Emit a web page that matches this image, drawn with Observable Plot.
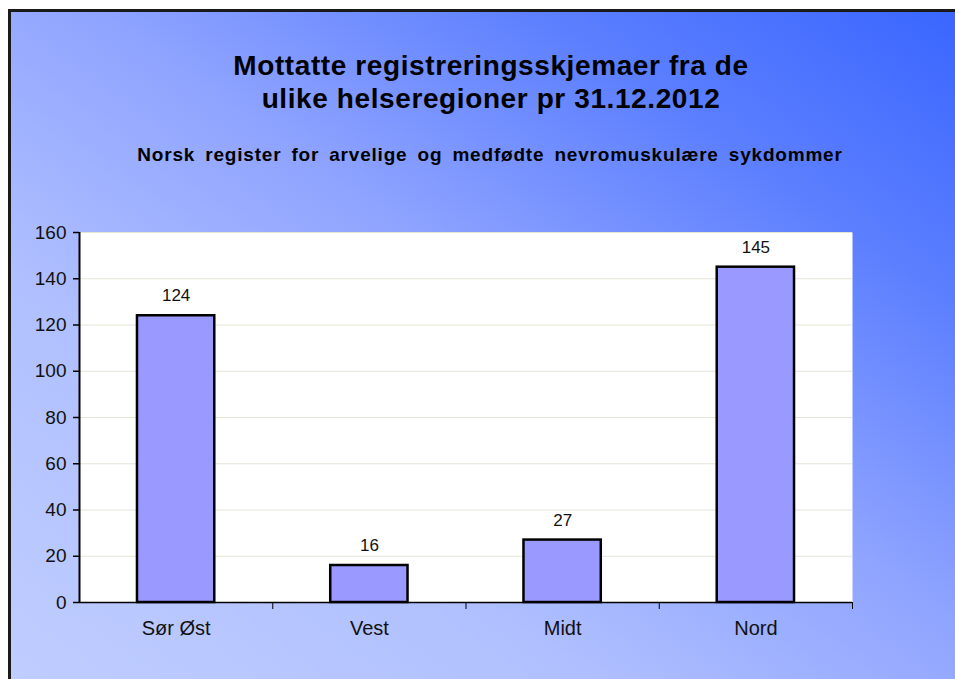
<!DOCTYPE html>
<html><head><meta charset="utf-8">
<script src="https://cdn.jsdelivr.net/npm/d3@7"></script>
<script src="https://cdn.jsdelivr.net/npm/@observablehq/plot@0.6"></script>
<style>
body{margin:0;background:#fff;width:955px;height:679px;overflow:hidden;position:relative;font-family:"Liberation Sans",Arial,sans-serif;}
#box{position:absolute;left:8px;top:9px;width:950px;height:672px;border-top:3px solid #1a1a1a;border-left:3px solid #1a1a1a;
 background:linear-gradient(to top right,#bfcdff 0%,#b0c0ff 30%,#8ea3ff 55%,#5c7fff 78%,#3a66ff 100%);}
#title{position:absolute;left:0;top:49px;width:982px;text-align:center;font-weight:bold;font-size:28px;letter-spacing:0.6px;line-height:33px;color:#000;}
#sub{position:absolute;left:0;top:144px;width:980px;text-align:center;font-weight:bold;font-size:19px;letter-spacing:0.8px;word-spacing:4px;color:#000;}
#chart{position:absolute;left:0;top:220px;}
</style></head>
<body>
<div id="box"></div>
<div id="title">Mottatte registreringsskjemaer fra de<br>ulike helseregioner pr 31.12.2012</div>
<div id="sub">Norsk register for arvelige og medfødte nevromuskulære sykdommer</div>
<div id="chart"></div>
<script>
const categories = ["Sør Øst", "Vest", "Midt", "Nord"];
const values = [124, 16, 27, 145];
const yTicks = [0, 20, 40, 60, 80, 100, 120, 140, 160];
const data = categories.map((c, i) => ({c, v: values[i], i}));
const boundaries = [1, 2, 3, 4];

const chart = Plot.plot({
  width: 955, height: 420,
  marginLeft: 79, marginRight: 103, marginTop: 12, marginBottom: 38,
  style: {background: "transparent", fontFamily: "'Liberation Sans', Arial, sans-serif", color: "#000"},
  x: {domain: [0, 4], axis: null},
  y: {domain: [0, 160], axis: null},
  marks: [
    Plot.frame({fill: "white", stroke: null}),
    Plot.gridY(yTicks, {stroke: "#e4e4d4", strokeOpacity: 1, strokeWidth: 1}),
    Plot.rectY(data, {x1: d => d.i + 0.3, x2: d => d.i + 0.7, y: "v", fill: "#9999ff", stroke: "#000", strokeWidth: 2.5}),
    Plot.text(data, {x: d => d.i + 0.5, y: "v", text: d => String(d.v), dy: -20, fontSize: 17, letterSpacing: "0.5px", fill: "#111"}),
    Plot.text(data, {x: d => d.i + 0.5, y: 0, text: "c", dy: 26, fontSize: 20, letterSpacing: "1.5px", fill: "#111"}),
    Plot.axisY(yTicks, {tickSize: 6, tickPadding: 7, fontSize: 19, letterSpacing: "1.5px", label: null, stroke: "#000", fill: "#111", strokeWidth: 1.5}),
    Plot.axisX(boundaries, {tickSize: 7, tickFormat: () => "", label: null, stroke: "#000"}),
    Plot.ruleY([0], {stroke: "#000", strokeWidth: 1.5}),
    Plot.ruleX([0], {stroke: "#000", strokeWidth: 2})
  ]
});
document.getElementById("chart").appendChild(chart);
</script>
</body></html>
